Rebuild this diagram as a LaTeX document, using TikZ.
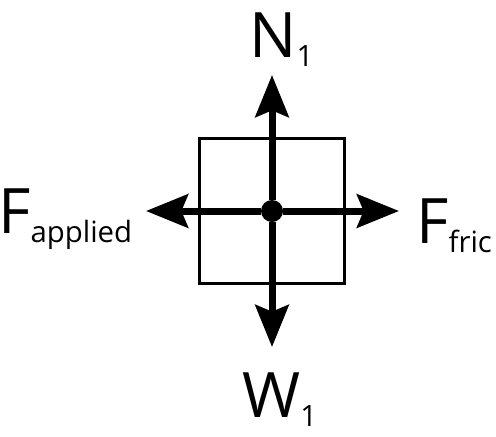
\documentclass[tikz,border=0pt]{standalone}
\usepackage{fontspec}
\setmainfont{Open Sans}
\usetikzlibrary{arrows.meta}

\newcommand{\forcelbl}[2]{#1{\fontsize{22}{22}\selectfont\raisebox{-7pt}{#2}}}

\begin{document}
\begin{tikzpicture}[
    x=0.75pt, y=-0.75pt,
    box/.style={draw, line width=2.5pt, minimum size=108.5pt, inner sep=0pt},
    dot/.style={circle, fill, minimum size=16.5pt, inner sep=0pt},
    force/.style={line width=5.25pt, -{Stealth[length=31.5pt, width=25pt, inset=5pt]}}, % seta da forca
    lbl/.style={inner sep=0pt, anchor=base west, font=\fontsize{47}{47}\selectfont} % rotulo com indice
    ]
    \useasboundingbox (0,0) rectangle (496,436);
    \node[box] (block) at (272,211) {};
    \node[dot] (cm) at (272,211) {};
    \coordinate (up) at (272,75);
    \coordinate (down) at (272,347);
    \coordinate (left) at (146,211);
    \coordinate (right) at (399,211);
    \draw[force] (cm) -- (up);
    \draw[force] (cm) -- (down);
    \draw[force] (cm) -- (left);
    \draw[force] (cm) -- (right);
    \node[lbl] (normal) at (249,57) {\forcelbl{N}{1}};
    \node[lbl] (weight) at (242,417) {\forcelbl{W}{1}};
    \node[lbl] (applied) at (-2,233) {\forcelbl{F}{applied}};
    \node[lbl] (fric) at (416,243) {\forcelbl{F}{fric}};
\end{tikzpicture}
\end{document}
